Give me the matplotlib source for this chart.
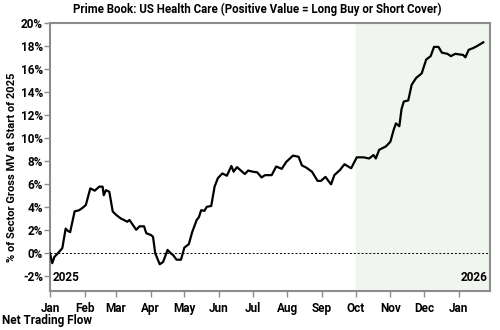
import matplotlib
matplotlib.use("Agg")
import matplotlib.pyplot as plt
import matplotlib.dates as mdates
import pandas as pd

plt.rcParams['font.family'] = ['Roboto', 'DejaVu Sans']
plt.rcParams['font.weight'] = 'bold'

dates = ["2025-01-01", "2025-01-03", "2025-01-05", "2025-01-08", "2025-01-12", "2025-01-15",
         "2025-01-17", "2025-01-19", "2025-01-23", "2025-01-27", "2025-01-30", "2025-02-02",
         "2025-02-06", "2025-02-10", "2025-02-14", "2025-02-17", "2025-02-18", "2025-02-20",
         "2025-02-23", "2025-02-26", "2025-03-01", "2025-03-05", "2025-03-11", "2025-03-13",
         "2025-03-19", "2025-03-22", "2025-03-26", "2025-03-28", "2025-04-01", "2025-04-03",
         "2025-04-05", "2025-04-09", "2025-04-12", "2025-04-16", "2025-04-19", "2025-04-21",
         "2025-04-24", "2025-04-28", "2025-05-01", "2025-05-05", "2025-05-08", "2025-05-12",
         "2025-05-14", "2025-05-16", "2025-05-19", "2025-05-21", "2025-05-25", "2025-05-28",
         "2025-05-31", "2025-06-04", "2025-06-08", "2025-06-12", "2025-06-14", "2025-06-17",
         "2025-06-24", "2025-06-27", "2025-07-01", "2025-07-05", "2025-07-09", "2025-07-12",
         "2025-07-18", "2025-07-22", "2025-07-27", "2025-07-31", "2025-08-06", "2025-08-11",
         "2025-08-14", "2025-08-18", "2025-08-23", "2025-08-28", "2025-08-31", "2025-09-04",
         "2025-09-09", "2025-09-12", "2025-09-17", "2025-09-21", "2025-09-27", "2025-10-02",
         "2025-10-08", "2025-10-13", "2025-10-17", "2025-10-19", "2025-10-22", "2025-10-28",
         "2025-11-01", "2025-11-04", "2025-11-06", "2025-11-09", "2025-11-11", "2025-11-13",
         "2025-11-17", "2025-11-20", "2025-11-24", "2025-11-29", "2025-12-03", "2025-12-07",
         "2025-12-10", "2025-12-14", "2025-12-17", "2025-12-22", "2025-12-25", "2025-12-29",
         "2026-01-05", "2026-01-07", "2026-01-10", "2026-01-14", "2026-01-17", "2026-01-23"]
flow = [-0.05, -0.9, -0.35, -0.05, 0.4, 2.1,
        1.9, 1.8, 3.6, 3.7, 3.9, 4.15,
        5.6, 5.4, 5.75, 5.75, 5.0, 5.45,
        5.3, 3.6, 3.3, 3.0, 2.7, 2.85,
        2.0, 2.3, 2.3, 1.7, 1.55, 1.4,
        -0.05, -1.0, -0.8, 0.25, -0.05, -0.2,
        -0.6, -0.6, 0.45, 0.75, 1.8, 2.85,
        3.1, 3.7, 3.65, 4.0, 4.07, 5.75,
        6.5, 6.9, 6.7, 7.55, 7.05, 7.45,
        6.85, 7.15, 7.05, 7.0, 6.55, 6.75,
        6.75, 7.5, 7.3, 7.9, 8.45, 8.35,
        7.6, 7.4, 7.05, 6.25, 6.25, 6.6,
        5.95, 6.75, 7.2, 7.7, 7.35, 8.3,
        8.3, 8.2, 8.5, 8.2, 8.95, 9.25,
        9.65, 10.7, 11.25, 11.0, 12.5, 13.15,
        13.25, 14.6, 15.2, 15.6, 16.8, 17.1,
        17.9, 17.9, 17.4, 17.3, 17.1, 17.3,
        17.2, 17.0, 17.65, 17.8, 17.95, 18.3]

yticks = [-2, 0, 2, 4, 6, 8, 10, 12, 14, 16, 18, 20]
title = "Prime Book: US Health Care (Positive Value = Long Buy or Short Cover)"
ylabel = "% of Sector Gross MV at Start of 2025"

x = pd.to_datetime(dates)

fig = plt.figure(figsize=(5, 3.3), dpi=100)
ax = fig.add_axes([0.1, 0.119, 0.88, 0.812])

ax.axvspan(pd.Timestamp("2025-10-01"), pd.Timestamp("2026-01-29"), color="#f1f5ef", zorder=0)
ax.axhline(0, color="black", lw=0.7, ls=(0, (2, 2)), zorder=1)
ax.plot(x, flow, color="black", lw=1.6, zorder=3)

ax.set_xlim(pd.Timestamp("2025-01-01"), pd.Timestamp("2026-01-29"))
ax.set_ylim(-3.3, 20)
ax.set_yticks(yticks)
ax.set_yticklabels([f"{v}%" for v in yticks])
ax.xaxis.set_major_locator(mdates.MonthLocator())
ax.xaxis.set_major_formatter(mdates.DateFormatter("%b"))

for s in ax.spines.values():
    s.set_color("#8c8c8c")
    s.set_linewidth(1.5)
ax.tick_params(axis="both", colors="#8c8c8c", labelcolor="black", labelsize=8.5,
               length=4, width=1)
ax.tick_params(axis="x", pad=4)
ax.tick_params(axis="y", pad=1)
for lab in ax.get_xticklabels() + ax.get_yticklabels():
    lab.set_fontweight("bold")

ax.text(0.006, 0.025, "2025", transform=ax.transAxes, fontsize=8.5, fontweight="bold",
        ha="left", va="bottom")
ax.text(0.994, 0.025, "2026", transform=ax.transAxes, fontsize=8.5, fontweight="bold",
        ha="right", va="bottom")

fig.text(0.514, 0.973, title, ha="center", va="center", fontsize=8.3, fontweight="bold")
fig.text(0.024, 0.493, ylabel, rotation=90, ha="center", va="center", fontsize=8.0,
         fontweight="bold")
fig.text(0.004, 0.03, "Net Trading Flow", ha="left", va="center", fontsize=8.5,
         fontweight="bold")

fig.savefig("out.png", dpi=100)
